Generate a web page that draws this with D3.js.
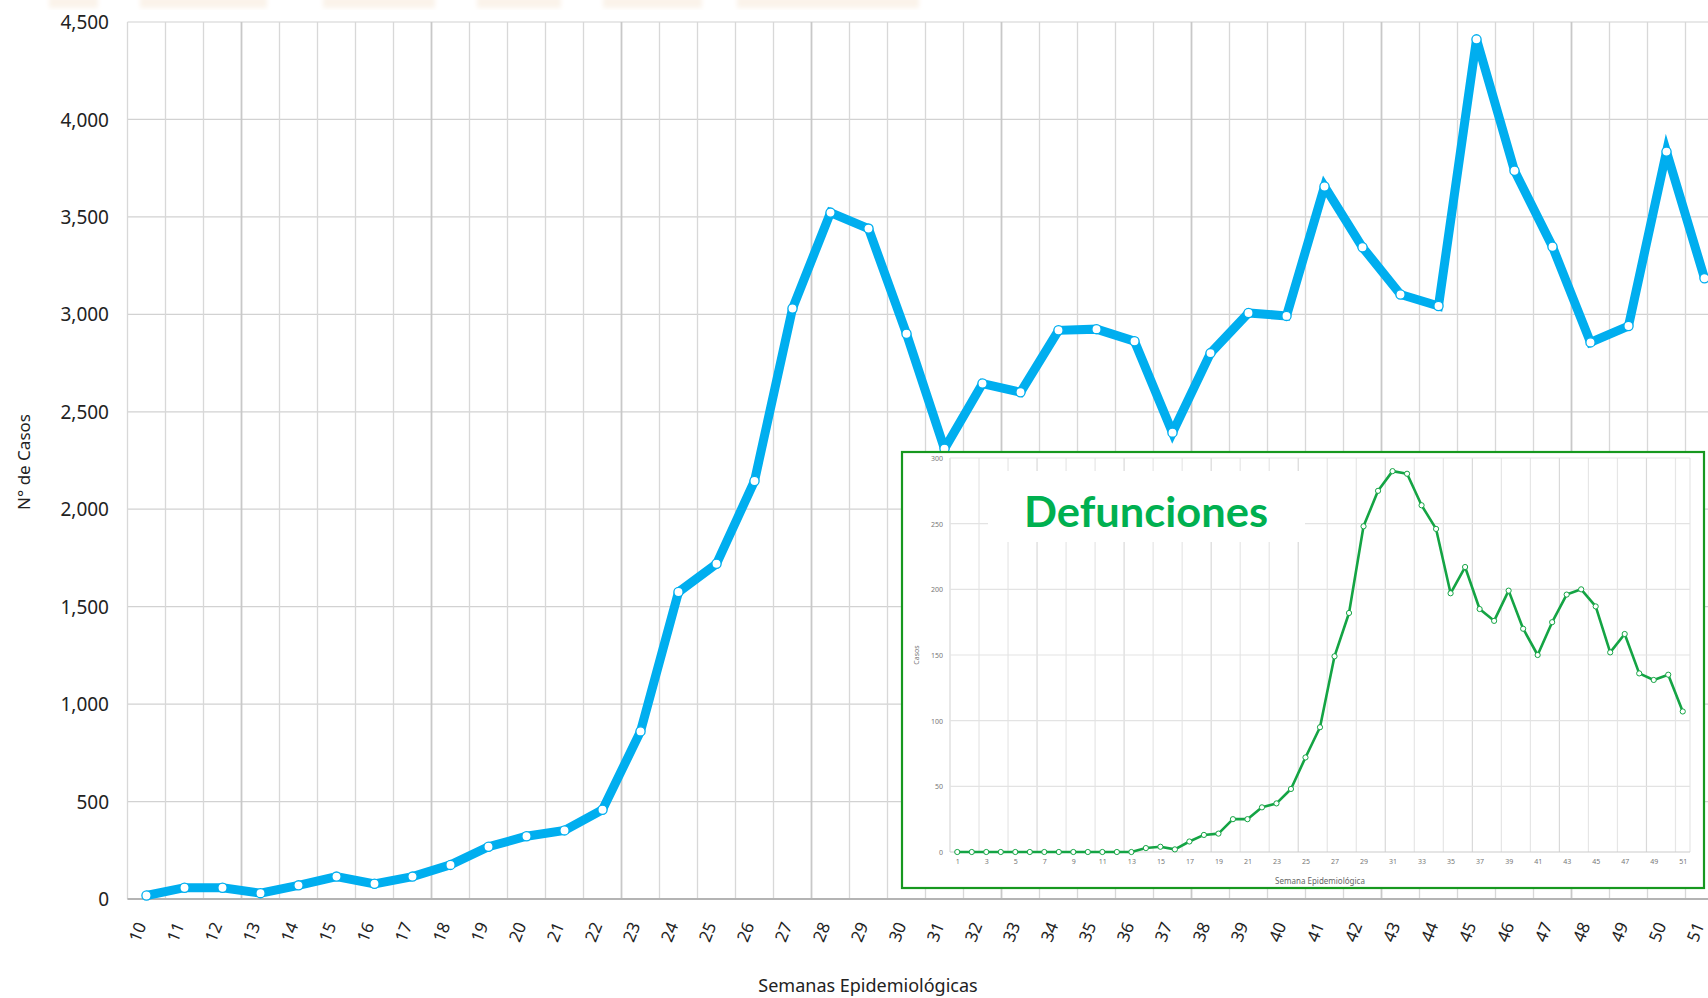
<!DOCTYPE html>
<html>
<head>
<meta charset="utf-8">
<script src="https://cdn.jsdelivr.net/npm/d3@7"></script>
<style>
  html, body { margin: 0; padding: 0; background: #ffffff; }
  svg { display: block; }
</style>
</head>
<body>
<svg id="chart" width="1708" height="998"></svg>
<script>
// ---------------- DATA ----------------
const semanas = [10,11,12,13,14,15,16,17,18,19,20,21,22,23,24,25,26,27,28,29,30,
                 31,32,33,34,35,36,37,38,39,40,41,42,43,44,45,46,47,48,49,50,51];
const casos = [18,58,58,30,70,115,78,115,175,268,322,352,458,860,1575,1720,2145,3030,
               3522,3440,2900,2310,2645,2600,2918,2924,2862,2393,2801,3007,2992,3656,
               3344,3102,3043,4411,3737,3347,2856,2940,3835,3185];
const yTicks = [0,500,1000,1500,2000,2500,3000,3500,4000,4500];

const semanasDef = d3.range(1, 52);
const defunciones = [0,0,0,0,0,0,0,0,0,0,0,0,0,3,4,2,8,13,14,25,25,34,37,48,72,95,
                     149,182,248,275,290,288,264,246,197,217,185,176,199,170,150,175,
                     196,200,187,152,166,136,131,135,107];
const yTicksDef = [0,50,100,150,200,250,300];
const xTicksDef = semanasDef.filter(d => d % 2 === 1);

const svg = d3.select("#chart");
const FONT = "'Noto Sans', 'DejaVu Sans', sans-serif";

// faint remnants of header band at the top
const defs = svg.append("defs");
defs.append("filter").attr("id", "blur").append("feGaussianBlur").attr("stdDeviation", 2.5);
const header = [[49,98],[140,267],[323,435],[477,561],[603,702],[737,919]];
svg.append("g").attr("filter", "url(#blur)").selectAll("rect").data(header).join("rect")
  .attr("x", d => d[0]).attr("y", -4).attr("width", d => d[1]-d[0]).attr("height", 12)
  .attr("fill", "#f7ead8").attr("opacity", 0.55);

// ---------------- MAIN CHART ----------------
const x = d3.scaleBand().domain(semanas).range([127.5, 127.5 + 38 * semanas.length]).padding(0);
const y = d3.scaleLinear().domain([0, 4500]).range([899, 22]);
const xl = x.range()[0];

const grid = svg.append("g");
grid.selectAll("line.h").data(yTicks).join("line")
  .attr("class", "h")
  .attr("x1", xl).attr("x2", 1708)
  .attr("y1", d => y(d)).attr("y2", d => y(d))
  .attr("stroke", "#d2d2d2").attr("stroke-width", 1.2);
const bounds = semanas.map(s => x(s));
grid.selectAll("line.v").data(bounds).join("line")
  .attr("class", "v")
  .attr("x1", d => d).attr("x2", d => d)
  .attr("y1", y(4500)).attr("y2", y(0))
  .attr("stroke", (d, i) => (i % 5 === 3 ? "#c8c8c8" : "#d8d8d8"))
  .attr("stroke-width", (d, i) => (i % 5 === 3 ? 1.8 : 1.3));
svg.append("line")
  .attr("x1", xl).attr("x2", 1708).attr("y1", y(0)).attr("y2", y(0))
  .attr("stroke", "#b4b4b4").attr("stroke-width", 2);

// y axis labels
const yAxis = d3.axisLeft(y).tickValues(yTicks).tickSize(0).tickPadding(0)
  .tickFormat(d3.format(","));
const gy = svg.append("g").attr("transform", "translate(109,0)").call(yAxis);
gy.select(".domain").remove();
gy.selectAll("text").attr("font-family", FONT).attr("font-size", 19)
  .attr("fill", "#222").attr("dy", "0.35em");

// x axis labels (rotated)
svg.append("g").selectAll("text").data(semanas).join("text")
  .attr("transform", d => `translate(${x(d) + x.bandwidth()/2 - 9},932) rotate(-68)`)
  .attr("text-anchor", "middle").attr("dy", "0.35em")
  .attr("font-family", FONT).attr("font-size", 17).attr("fill", "#222")
  .text(d => d);

// axis titles
svg.append("text").attr("x", 868).attr("y", 992)
  .attr("text-anchor", "middle").attr("font-family", FONT).attr("font-size", 18)
  .attr("fill", "#222").text("Semanas Epidemiológicas");
svg.append("text").attr("transform", "translate(30,462) rotate(-90)")
  .attr("text-anchor", "middle").attr("font-family", FONT).attr("font-size", 17)
  .attr("fill", "#222").text("N° de Casos");

// line
const lineMain = d3.line().x((d, i) => x(semanas[i]) + x.bandwidth()/2).y(d => y(d));
svg.append("path").datum(casos)
  .attr("d", lineMain).attr("fill", "none")
  .attr("stroke", "#00aeef").attr("stroke-width", 9)
  .attr("stroke-linejoin", "miter").attr("stroke-miterlimit", 4);
svg.append("g").selectAll("circle").data(casos).join("circle")
  .attr("cx", (d, i) => x(semanas[i]) + x.bandwidth()/2)
  .attr("cy", d => y(d)).attr("r", 4.6)
  .attr("fill", "#ffffff").attr("stroke", "#00aeef").attr("stroke-width", 1.3);

// ---------------- INSET ----------------
const inset = svg.append("g");
inset.append("rect")
  .attr("x", 902).attr("y", 452).attr("width", 802).attr("height", 436)
  .attr("fill", "#ffffff");

const xi = d3.scaleLinear().domain([0.5, 51.5]).range([950, 1690]);
const yi = d3.scaleLinear().domain([0, 300]).range([852, 458]);

const vGridDef = d3.range(0.5, 52, 2).concat([51.5]);
inset.append("g").selectAll("line").data(vGridDef).join("line")
  .attr("x1", d => xi(d)).attr("x2", d => xi(d))
  .attr("y1", yi(300)).attr("y2", yi(0))
  .attr("stroke", (d, i) => (i % 3 === 0 ? "#d9d9d9" : "#e6e6e6")).attr("stroke-width", 1.2);
inset.append("g").selectAll("line").data(yTicksDef).join("line")
  .attr("x1", xi(0.5)).attr("x2", xi(51.5))
  .attr("y1", d => yi(d)).attr("y2", d => yi(d))
  .attr("stroke", d => (d === 0 ? "#cccccc" : "#e3e3e3")).attr("stroke-width", 1.2);

inset.append("rect").attr("x", 988).attr("y", 471).attr("width", 317).attr("height", 71)
  .attr("fill", "#ffffff");
inset.append("text").attr("x", 1146).attr("y", 527)
  .attr("text-anchor", "middle").attr("font-family", "Lato, 'Open Sans', sans-serif")
  .attr("font-weight", 700).attr("font-size", 42)
  .attr("textLength", 244).attr("lengthAdjust", "spacingAndGlyphs")
  .attr("fill", "#00b050").text("Defunciones");

const yAxisI = d3.axisLeft(yi).tickValues(yTicksDef).tickSize(0).tickPadding(0);
const gyi = inset.append("g").attr("transform", "translate(943,0)").call(yAxisI);
gyi.select(".domain").remove();
gyi.selectAll("text").attr("font-family", FONT).attr("font-size", 7)
  .attr("fill", "#777").attr("dy", "0.35em");

const xAxisI = d3.axisBottom(xi).tickValues(xTicksDef).tickSize(0).tickPadding(0);
const gxi = inset.append("g").attr("transform", "translate(0,859)").call(xAxisI);
gxi.select(".domain").remove();
gxi.selectAll("text").attr("font-family", FONT).attr("font-size", 7)
  .attr("fill", "#777").attr("dy", "0.71em");

inset.append("text").attr("x", 1320).attr("y", 884)
  .attr("text-anchor", "middle").attr("font-family", FONT).attr("font-size", 8)
  .attr("fill", "#666").text("Semana Epidemiológica");
inset.append("text").attr("transform", "translate(919,655) rotate(-90)")
  .attr("text-anchor", "middle").attr("font-family", FONT).attr("font-size", 7)
  .attr("fill", "#777").text("Casos");

const lineDef = d3.line().x((d, i) => xi(semanasDef[i])).y(d => yi(d));
inset.append("path").datum(defunciones)
  .attr("d", lineDef).attr("fill", "none")
  .attr("stroke", "#14a444").attr("stroke-width", 2.6).attr("stroke-linejoin", "round");
inset.append("g").selectAll("circle").data(defunciones).join("circle")
  .attr("cx", (d, i) => xi(semanasDef[i])).attr("cy", d => yi(d)).attr("r", 2.6)
  .attr("fill", "#ffffff").attr("stroke", "#14a444").attr("stroke-width", 1);

inset.append("rect")
  .attr("x", 902).attr("y", 452).attr("width", 802).attr("height", 436)
  .attr("fill", "none").attr("stroke", "#17981f").attr("stroke-width", 2.2);
</script>
</body>
</html>
